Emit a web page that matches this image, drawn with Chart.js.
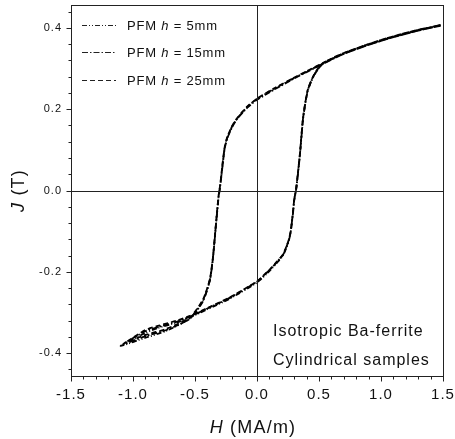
<!DOCTYPE html>
<html>
<head>
<meta charset="utf-8">
<script src="https://cdn.jsdelivr.net/npm/chart.js@4.4.0/dist/chart.umd.min.js"></script>
<style>
  html, body { margin: 0; padding: 0; background: #fff; }
</style>
</head>
<body>
<canvas id="loopChart" width="455" height="439"></canvas>
<script>
// Sample thickness of each PFM series
var seriesLabels = ['5mm', '15mm', '25mm'];

// Descending branch (from +H down to the knee and on to -H)
var upperH = [1.48, 1.3, 1.1, 0.9, 0.7, 0.53, 0.4, 0.29, 0.15, 0, -0.08, -0.16, -0.2, -0.24, -0.26, -0.27, -0.28, -0.29, -0.3, -0.31, -0.33, -0.355, -0.38, -0.435, -0.54, -0.73, -0.9];
var upperJ5  = [0.407, 0.394, 0.378, 0.359, 0.337, 0.312, 0.292, 0.275, 0.252, 0.225, 0.205, 0.177, 0.158, 0.13, 0.106, 0.084, 0.057, 0.03, 0.005, -0.015, -0.08, -0.165, -0.22, -0.27, -0.314, -0.345, -0.362];
var upperJ15 = [0.405, 0.393, 0.377, 0.358, 0.336, 0.311, 0.291, 0.274, 0.25, 0.223, 0.203, 0.176, 0.156, 0.128, 0.104, 0.082, 0.055, 0.028, 0.003, -0.017, -0.082, -0.166, -0.221, -0.272, -0.315, -0.343, -0.358];
var upperJ25 = [0.406, 0.395, 0.379, 0.36, 0.338, 0.313, 0.293, 0.276, 0.253, 0.226, 0.206, 0.178, 0.159, 0.131, 0.108, 0.086, 0.06, 0.032, 0.007, -0.013, -0.078, -0.163, -0.218, -0.268, -0.312, -0.34, -0.355];

// Field tip of each loop
var tipH = [-1.1, -1.08, -1.05];
var tipJ = [-0.382, -0.378, -0.372];

// Ascending branch (from -H back up to +H)
var lowerH = [-0.9, -0.8, -0.65, -0.54, -0.4, -0.22, 0, 0.1, 0.16, 0.21, 0.25, 0.27, 0.29, 0.3, 0.315, 0.33, 0.347, 0.37, 0.39, 0.41, 0.44, 0.47, 0.53, 0.7, 0.9, 1.1, 1.3, 1.48];
var lowerJ5  = [-0.35, -0.338, -0.325, -0.312, -0.292, -0.266, -0.226, -0.198, -0.178, -0.16, -0.13, -0.106, -0.057, -0.025, 0, 0.04, 0.09, 0.172, 0.215, 0.246, 0.27, 0.288, 0.312, 0.337, 0.359, 0.378, 0.394, 0.407];
var lowerJ15 = [-0.346, -0.336, -0.323, -0.31, -0.29, -0.264, -0.224, -0.196, -0.176, -0.158, -0.128, -0.104, -0.055, -0.023, 0.002, 0.042, 0.092, 0.174, 0.216, 0.247, 0.271, 0.289, 0.311, 0.336, 0.358, 0.377, 0.393, 0.405];
var lowerJ25 = [-0.343, -0.333, -0.32, -0.308, -0.289, -0.263, -0.223, -0.195, -0.175, -0.157, -0.127, -0.103, -0.054, -0.022, 0.003, 0.043, 0.093, 0.175, 0.217, 0.248, 0.272, 0.29, 0.313, 0.338, 0.36, 0.379, 0.395, 0.406];

// Axis ticks
var xTicks = [-1.5, -1.0, -0.5, 0.0, 0.5, 1.0, 1.5];
var yTicks = [-0.4, -0.2, 0.0, 0.2, 0.4];

var FONT = '"Liberation Sans", Arial, sans-serif';

function loopPoints(upperJ, k, lowerJ) {
    var pts = [];
    for (var i = 0; i < upperH.length; i++) pts.push({ x: upperH[i], y: upperJ[i] });
    pts.push({ x: tipH[k], y: tipJ[k] });
    for (var j = 0; j < lowerH.length; j++) pts.push({ x: lowerH[j], y: lowerJ[j] });
    return pts;
}

var dashes = [[5, 2, 1, 2, 1, 2], [6, 2, 1.5, 2], [5, 3]];
var upperSets = [upperJ5, upperJ15, upperJ25];
var lowerSets = [lowerJ5, lowerJ15, lowerJ25];

var datasets = seriesLabels.map(function (lab, k) {
    return {
        label: lab,
        data: loopPoints(upperSets[k], k, lowerSets[k]),
        showLine: true,
        borderColor: '#000',
        borderWidth: 1.8,
        borderDash: dashes[k],
        pointRadius: 0,
        tension: 0.2
    };
});

function fmt(v) { return v.toFixed(1); }

// Draw a run of text pieces, some of them italic
function drawRich(ctx, parts, x, y, size) {
    parts.forEach(function (p) {
        ctx.font = (p[1] ? 'italic ' : '') + size + 'px ' + FONT;
        ctx.fillText(p[0], x, y);
        x += ctx.measureText(p[0]).width;
    });
    return x;
}
function richWidth(ctx, parts, size) {
    var w = 0;
    parts.forEach(function (p) {
        ctx.font = (p[1] ? 'italic ' : '') + size + 'px ' + FONT;
        w += ctx.measureText(p[0]).width;
    });
    return w;
}

var spacingPlugin = {
    id: 'spacing',
    beforeDraw: function (chart) { chart.ctx.letterSpacing = '1px'; }
};

var decorPlugin = {
    id: 'decor',
    afterDraw: function (chart) {
        var ctx = chart.ctx, a = chart.chartArea;
        var xs = chart.scales.x, ys = chart.scales.y;
        var L = Math.round(a.left) + 0.5, R = Math.round(a.right) + 0.5;
        var T = Math.round(a.top) + 0.5, B = Math.round(a.bottom) + 0.5;
        ctx.save();
        ctx.strokeStyle = '#222';
        ctx.lineWidth = 1;
        ctx.setLineDash([]);
        ctx.strokeRect(L, T, R - L, B - T);

        // zero lines
        var x0 = Math.round(xs.getPixelForValue(0)) + 0.5;
        var y0 = Math.round(ys.getPixelForValue(0)) + 0.5;
        ctx.beginPath();
        ctx.moveTo(x0, T); ctx.lineTo(x0, B);
        ctx.moveTo(L, y0); ctx.lineTo(R, y0);
        ctx.stroke();

        // ticks, major and minor, outside the frame
        ctx.beginPath();
        for (var i = 0; i <= 30; i++) {
            var v = -1.5 + i * 0.1;
            var px = Math.round(xs.getPixelForValue(v)) + 0.5;
            var len = (i % 5 === 0) ? 5 : 3;
            ctx.moveTo(px, B); ctx.lineTo(px, B + len);
        }
        for (var n = -11; n <= 11; n++) {
            var yv = n * 0.04;
            var py = Math.round(ys.getPixelForValue(yv)) + 0.5;
            var l2 = (n % 5 === 0) ? 5 : 3;
            ctx.moveTo(L, py); ctx.lineTo(L - l2, py);
        }
        ctx.stroke();

        // legend
        ctx.fillStyle = '#111';
        ctx.textBaseline = 'middle';
        ctx.textAlign = 'left';
        ctx.letterSpacing = '0.8px';
        var rows = [25, 52, 80];
        chart.data.datasets.forEach(function (ds, k) {
            ctx.beginPath();
            ctx.lineWidth = 1.2;
            ctx.setLineDash(ds.borderDash);
            ctx.moveTo(82, rows[k] + 0.5);
            ctx.lineTo(116, rows[k] + 0.5);
            ctx.stroke();
            ctx.setLineDash([]);
            drawRich(ctx, [['PFM ', false], ['h', true], [' = ' + ds.label, false]], 127, rows[k] + 1, 13);
        });

        // annotation
        ctx.letterSpacing = '1px';
        ctx.font = '16px ' + FONT;
        ctx.fillText('Isotropic Ba-ferrite', 273, 332);
        ctx.fillText('Cylindrical samples', 273, 361);

        // axis titles
        ctx.letterSpacing = '1.2px';
        var xt = [['H', true], [' (MA/m)', false]];
        var w = richWidth(ctx, xt, 18);
        drawRich(ctx, xt, (a.left + a.right) / 2 - w / 2 - 4, 428, 18);

        var yt = [['J', true], [' (T)', false]];
        ctx.save();
        ctx.translate(19, (a.top + a.bottom) / 2);
        ctx.rotate(-Math.PI / 2);
        var wy = richWidth(ctx, yt, 18);
        drawRich(ctx, yt, -wy / 2, 0, 18);
        ctx.restore();
        ctx.restore();
    }
};

new Chart(document.getElementById('loopChart'), {
    type: 'scatter',
    data: { datasets: datasets },
    options: {
        responsive: false,
        animation: false,
        layout: { padding: { top: 5, right: 12, left: 0, bottom: 0 } },
        plugins: { legend: { display: false }, tooltip: { enabled: false } },
        scales: {
            x: {
                type: 'linear', min: -1.5, max: 1.5,
                grid: { display: false, drawTicks: false },
                border: { display: false },
                afterBuildTicks: function (s) { s.ticks = xTicks.map(function (v) { return { value: v }; }); },
                afterFit: function (s) { s.height = 63; s.paddingLeft = 0; s.paddingRight = 0; },
                ticks: { padding: 10, color: '#111', font: { family: FONT, size: 15 }, callback: function (v) { return fmt(v); } }
            },
            y: {
                type: 'linear', min: -0.456, max: 0.456,
                grid: { display: false, drawTicks: false },
                border: { display: false },
                afterBuildTicks: function (s) { s.ticks = yTicks.map(function (v) { return { value: v }; }); },
                afterFit: function (s) { s.width = 71; s.paddingTop = 0; s.paddingBottom = 0; },
                ticks: { padding: 9, color: '#111', font: { family: FONT, size: 11 }, callback: function (v) { return fmt(v); } }
            }
        }
    },
    plugins: [spacingPlugin, decorPlugin]
});
</script>
</body>
</html>
